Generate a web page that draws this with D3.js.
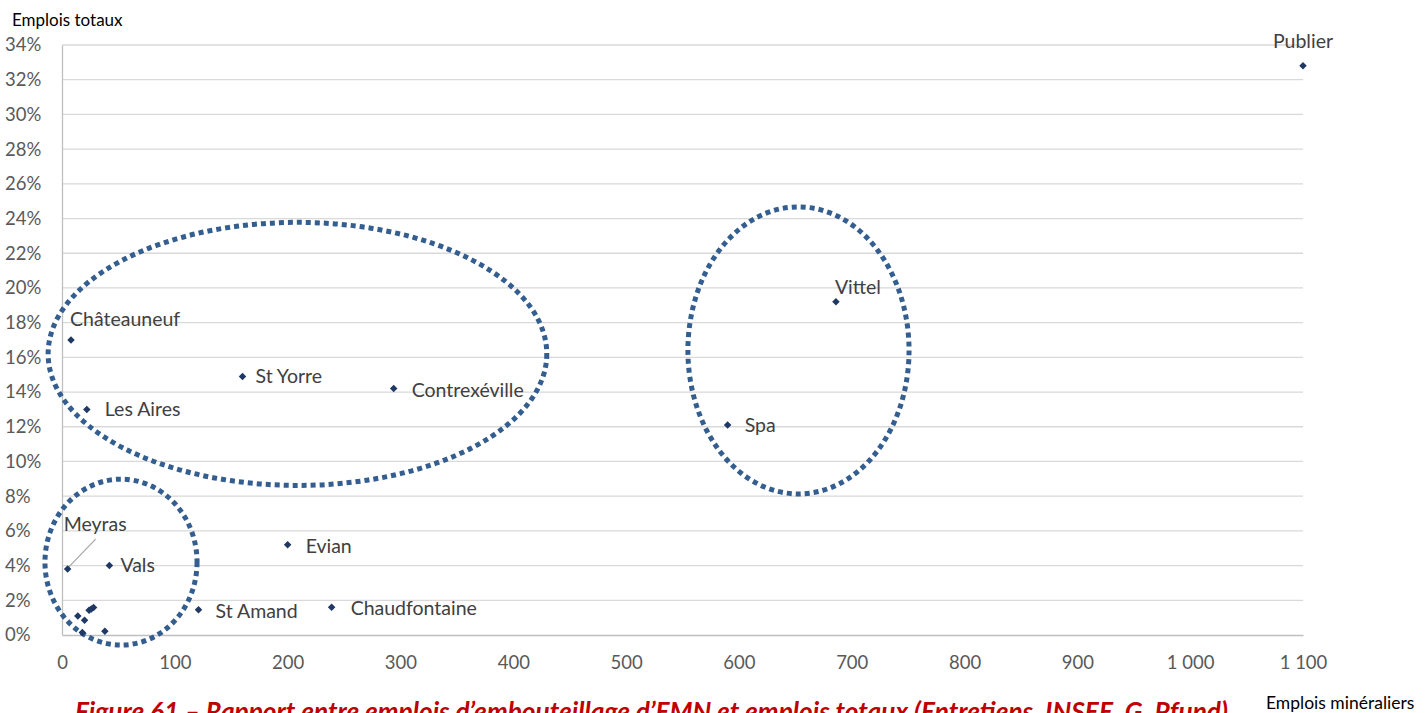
<!DOCTYPE html>
<html><head><meta charset="utf-8">
<script src="https://cdn.jsdelivr.net/npm/d3@7"></script>
<style>
html,body{margin:0;padding:0;background:#fff;overflow:hidden}
svg{display:block}
text{font-family:Lato,"Open Sans",sans-serif}
</style></head>
<body>
<svg id="c" width="1428" height="713"></svg>
<script>
// Data
const names = ["Publier","Vittel","Spa","Châteauneuf","St Yorre","Contrexéville","Les Aires","Meyras","Vals","Evian","St Amand","Chaudfontaine","","","","","","",""];
const xValues = [1100,686,590,8,160,294,22,5,42,200,121,239,14,20,24,26,28,18,38];
const yValues = [32.8,19.2,12.1,17.0,14.9,14.2,13.0,3.8,4.0,5.2,1.45,1.6,1.1,0.85,1.42,1.5,1.58,0.15,0.22];
const xTicks = [0,100,200,300,400,500,600,700,800,900,1000,1100];
const yTicks = [0,2,4,6,8,10,12,14,16,18,20,22,24,26,28,30,32,34];
// Annotation ellipses in data units: centre x, centre y (%), radius x, radius y (%)
const ellipseCx = [208.7,652.8,52.3];
const ellipseCy = [16.2,16.4,4.2];
const ellipseRx = [221,98,67.4];
const ellipseRy = [7.58,8.27,4.78];
// label placement (pixel offsets from point, anchor)
const labelPos = {
  "Publier":[0,-18,"middle"],
  "Vittel":[-1,-8,"start"],
  "Spa":[17,7,"start"],
  "Châteauneuf":[-1,-14,"start"],
  "St Yorre":[13,7,"start"],
  "Contrexéville":[18,8,"start"],
  "Les Aires":[18,7,"start"],
  "Meyras":[-4,-38,"start"],
  "Vals":[11,6,"start"],
  "Evian":[18,8,"start"],
  "St Amand":[17,8,"start"],
  "Chaudfontaine":[19,8,"start"]
};

const svg = d3.select("#c");
const x = d3.scaleLinear().domain([0,1100]).range([62,1303]);
const y = d3.scaleLinear().domain([0,34]).range([635,45]);
const FONT = "Lato,'Open Sans',sans-serif";

// gridlines
svg.append("g").selectAll("line").data(yTicks.filter(d=>d>0)).join("line")
  .attr("x1",x(0)).attr("x2",x(1100)).attr("y1",d=>y(d)).attr("y2",d=>y(d))
  .attr("stroke","#d9d9d9").attr("stroke-width",1.3);

// axes
const xAxis = d3.axisBottom(x).tickValues(xTicks).tickSize(0).tickPadding(21)
  .tickFormat(d=>d3.format(",")(d).replace(","," "));
const gx = svg.append("g").attr("transform",`translate(0,${y(0)})`).call(xAxis);
gx.select(".domain").attr("stroke","#bfbfbf").attr("stroke-width",1.3);
gx.selectAll("text").attr("font-size",18.5).attr("fill","#595959").style("font-family",FONT);

const yAxis = d3.axisLeft(y).tickValues(yTicks).tickSize(0)
  .tickFormat(d=>d+"%");
const gy = svg.append("g").attr("transform",`translate(${x(0)},0)`).call(yAxis);
gy.select(".domain").attr("stroke","#bfbfbf").attr("stroke-width",1.3);
gy.selectAll("text").attr("font-size",18.5).attr("fill","#595959").attr("text-anchor","start")
  .attr("x",-57).style("font-family",FONT);

// ellipses
svg.append("g").selectAll("ellipse").data(ellipseCx.map((d,i)=>i)).join("ellipse")
  .attr("cx",i=>x(ellipseCx[i])).attr("cy",i=>y(ellipseCy[i]))
  .attr("rx",i=>x(ellipseRx[i])-x(0)).attr("ry",i=>y(0)-y(ellipseRy[i]))
  .attr("fill","none").attr("stroke","#335e8f").attr("stroke-width",5)
  .attr("stroke-dasharray","5 4");

// Meyras leader line
const mi = names.indexOf("Meyras");
svg.append("line").attr("x1",x(xValues[mi])+1).attr("y1",y(yValues[mi])-2)
  .attr("x2",x(xValues[mi])+28).attr("y2",y(yValues[mi])-30)
  .attr("stroke","#a6a6a6").attr("stroke-width",1.2);

// points
const pts = names.map((n,i)=>({n,x:xValues[i],y:yValues[i]}));
svg.append("g").selectAll("path").data(pts).join("path")
  .attr("d",d3.symbol().type(d3.symbolDiamond2).size(36))
  .attr("transform",d=>`translate(${x(d.x)},${y(d.y)})`)
  .attr("fill","#1f3864");

// labels
svg.append("g").selectAll("text").data(pts.filter(d=>d.n)).join("text")
  .attr("x",d=>x(d.x)+labelPos[d.n][0]).attr("y",d=>y(d.y)+labelPos[d.n][1])
  .attr("text-anchor",d=>labelPos[d.n][2])
  .attr("font-size",19.5).attr("fill","#404040").text(d=>d.n);

// axis titles
svg.append("text").attr("x",12).attr("y",26).attr("font-size",17).attr("fill","#000").text("Emplois totaux");
svg.append("text").attr("x",1266).attr("y",709).attr("font-size",17.5).attr("fill","#000").text("Emplois minéraliers");

// caption
svg.append("text").attr("x",75).attr("y",721).attr("font-size",26).attr("font-weight","bold")
  .attr("font-style","italic").attr("fill","#c00000")
  .attr("textLength",1153).attr("lengthAdjust","spacingAndGlyphs")
  .text("Figure 61 – Rapport entre emplois d’embouteillage d’EMN et emplois totaux (Entretiens, INSEE, G. Pfund)");
</script>
</body></html>
